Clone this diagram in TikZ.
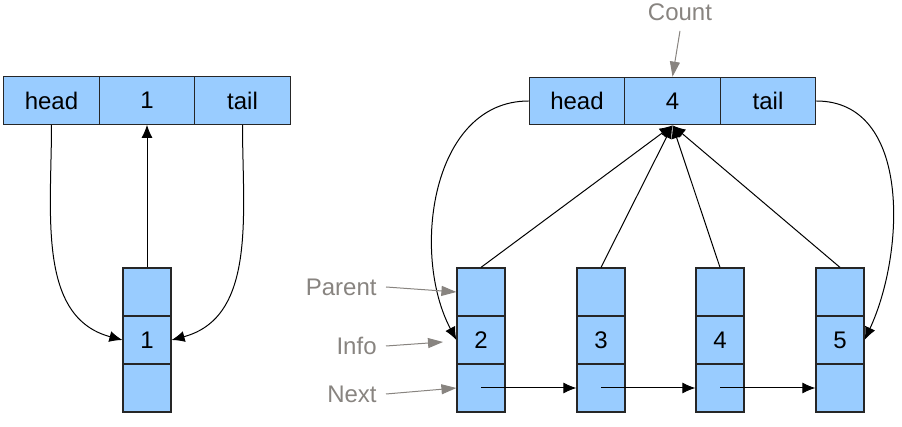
\documentclass[tikz,border=0pt]{standalone}
\usepackage{fontspec}
\setmainfont{Liberation Sans}
\usetikzlibrary{arrows.meta}
\definecolor{cellblue}{RGB}{153,204,255}
\definecolor{lblgray}{RGB}{136,132,128}
\tikzset{
  hcell/.style={draw=black!85, fill=cellblue, line width=0.6pt, inner sep=0pt,
    minimum width=47.75pt, minimum height=23.75pt, font=\fontsize{12}{14}\selectfont},
  ecell/.style={draw=black!85, fill=cellblue, line width=0.6pt, inner sep=0pt,
    minimum width=24pt, minimum height=24pt, font=\fontsize{12}{14}\selectfont},
  lbl/.style={text=lblgray, inner sep=0pt, font=\fontsize{12}{14}\selectfont},
  ptr/.style={line width=0.5pt, -{Latex[length=6.5pt,width=5.5pt]}},
  note/.style={lblgray, line width=0.5pt, -{Triangle[length=7.5pt,width=5pt]}}
}
\begin{document}
\begin{tikzpicture}[x=0.5pt,y=-0.5pt]
      \useasboundingbox (0,0) rectangle (902,427);
      % left list
      \draw
        (51.5,100.5) node[hcell] (hd1){head}
        (147,100.5) node[hcell] (cnt1){1}
        (242.5,100.5) node[hcell] (tl1){tail}
        (147,292) node[ecell] (e1p){}
        (147,340) node[ecell] (e1i){1}
        (147,388) node[ecell] (e1n){};
      % right list
      \draw
        (577,101) node[hcell] (hd2){head}
        (672.5,101) node[hcell] (cnt2){4}
        (768,101) node[hcell] (tl2){tail}
        (481,292) node[ecell] (e2p){}
        (481,340) node[ecell] (e2i){2}
        (481,388) node[ecell] (e2n){}
        (601,292) node[ecell] (e3p){}
        (601,340) node[ecell] (e3i){3}
        (601,388) node[ecell] (e3n){}
        (720,292) node[ecell] (e4p){}
        (720,340) node[ecell] (e4i){4}
        (720,388) node[ecell] (e4n){}
        (840,292) node[ecell] (e5p){}
        (840,340) node[ecell] (e5i){5}
        (840,388) node[ecell] (e5n){};
      % labels
      \node[lbl, anchor=east] (parlbl) at (377,287) {Parent};
      \node[lbl, anchor=east] (inflbl) at (377,346) {Info};
      \node[lbl, anchor=east] (nxtlbl) at (377,394) {Next};
      \node[lbl] (cntlbl) at (680,12) {Count};
      \coordinate (infend) at (443,342);
      \begin{scope}[ptr]
        \draw (hd1.south) to[out=-90,in=165] (e1i.west);
        \draw (tl1.south) to[out=-90,in=15] (e1i.east);
        \draw (e1p.north) to (cnt1.south);
        \draw (hd2.west) to[out=180,in=118] (e2i.west);
        \draw (tl2.east) to[out=0,in=65] (e5i.east);
        \draw (e2p.north) to (cnt2.south);
        \draw (e3p.north) to (cnt2.south);
        \draw (e4p.north) to (cnt2.south);
        \draw (e5p.north) to (cnt2.south);
        \draw (e2n.center) to (e3n.west);
        \draw (e3n.center) to (e4n.west);
        \draw (e4n.center) to (e5n.west);
      \end{scope}
      \begin{scope}[note]
        \draw ([xshift=4.5pt]parlbl.east) to (e2p.west);
        \draw ([xshift=4.5pt]inflbl.east) to (infend);
        \draw ([xshift=4.5pt]nxtlbl.east) to (e2n.west);
        \draw ([yshift=-5pt]cntlbl.south) to (cnt2.north);
      \end{scope}
    \end{tikzpicture}
\end{document}
